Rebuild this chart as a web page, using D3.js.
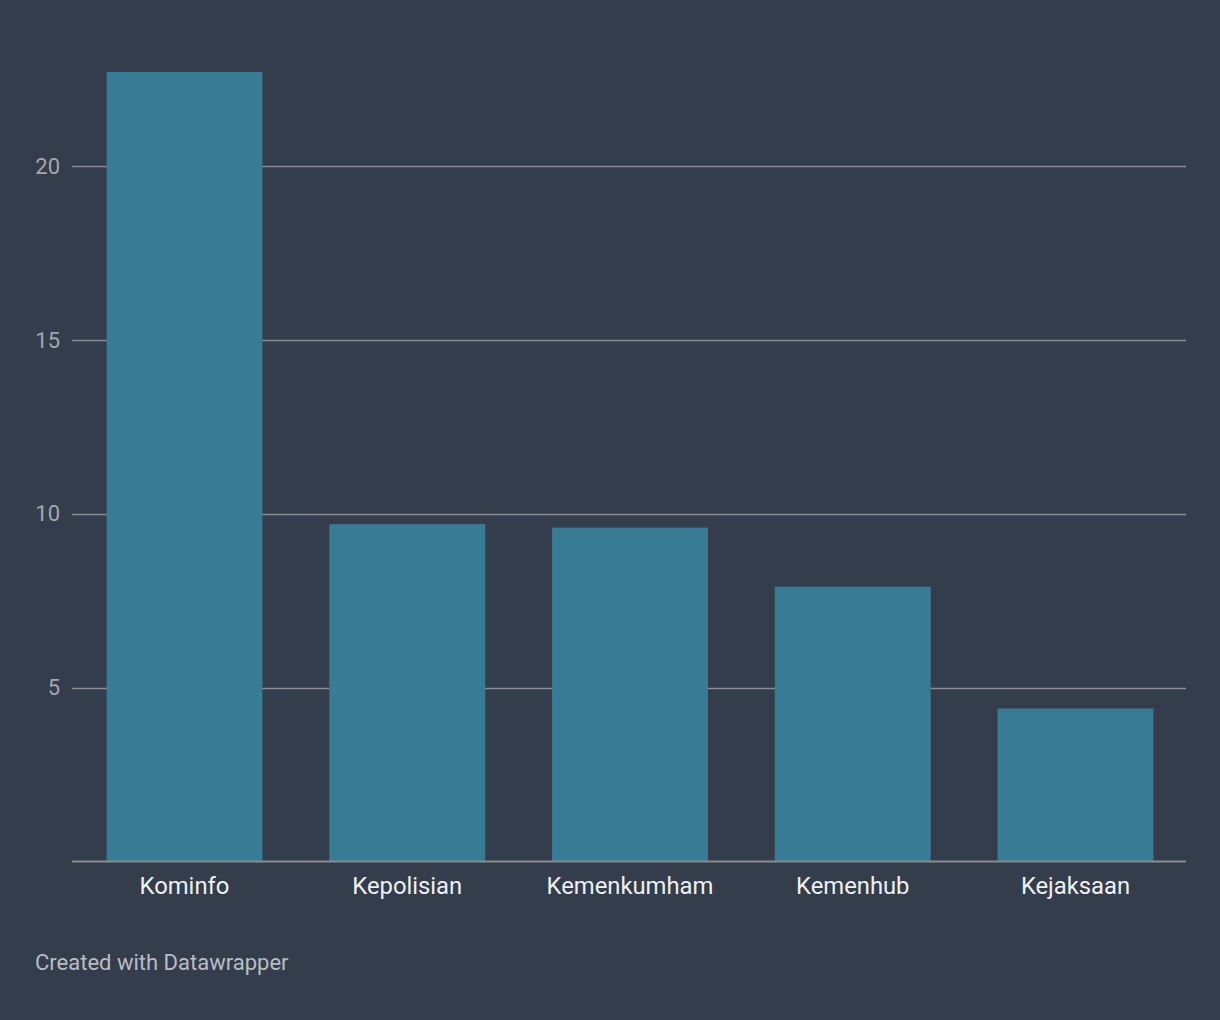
<!DOCTYPE html>
<html>
<head>
<meta charset="utf-8">
<script src="https://cdn.jsdelivr.net/npm/d3@7"></script>
<style>
  html, body { margin: 0; padding: 0; background: #333d4c; }
  svg { display: block; }
  text { font-family: Roboto, "Noto Sans", sans-serif; }
</style>
</head>
<body>
<svg id="chart" width="1220" height="1020"></svg>
<script>
const categories = ["Kominfo", "Kepolisian", "Kemenkumham", "Kemenhub", "Kejaksaan"];
const values = [22.7, 9.7, 9.6, 7.9, 4.4];
const yTicks = [5, 10, 15, 20];
const footerText = "Created with Datawrapper";

const W = 1220, H = 1020;
const svg = d3.select("#chart");
svg.append("rect").attr("width", W).attr("height", H).attr("fill", "#333d4c");

const plotLeft = 72, plotRight = 1186;
const y = d3.scaleLinear().domain([0, 22.7]).range([861.5, 72]);
const x = d3.scaleBand().domain(categories).range([72, 1188]).paddingInner(0.3).paddingOuter(0.155);

// gridlines
const grid = svg.append("g");
grid.selectAll("line").data(yTicks).join("line")
  .attr("x1", plotLeft).attr("x2", plotRight)
  .attr("y1", d => Math.round(y(d)) + 0.5).attr("y2", d => Math.round(y(d)) + 0.5)
  .attr("stroke", "#8b8d90").attr("stroke-width", 1.5);

// y tick labels
svg.append("g").selectAll("text").data(yTicks).join("text")
  .attr("x", 60).attr("y", d => y(d))
  .attr("dy", "0.35em")
  .attr("text-anchor", "end")
  .attr("font-size", 22)
  .attr("fill", "#a3a7ad")
  .text(d => d);

// bars
svg.append("g").selectAll("rect").data(values).join("rect")
  .attr("x", (d, i) => x(categories[i]))
  .attr("width", x.bandwidth())
  .attr("y", d => y(d))
  .attr("height", d => y(0) - y(d))
  .attr("fill", "#387b95");

// baseline
svg.append("line")
  .attr("x1", plotLeft).attr("x2", plotRight)
  .attr("y1", 861.5).attr("y2", 861.5)
  .attr("stroke", "#8b8d90").attr("stroke-width", 2);

// x labels
svg.append("g").selectAll("text").data(categories).join("text")
  .attr("x", d => x(d) + x.bandwidth() / 2)
  .attr("y", 894)
  .attr("text-anchor", "middle")
  .attr("font-size", 23.8)
  .attr("fill", "#eef0f2")
  .text(d => d);

// footer
svg.append("text")
  .attr("x", 35).attr("y", 970)
  .attr("font-size", 22)
  .attr("fill", "#b9bdc3")
  .text(footerText);
</script>
</body>
</html>
